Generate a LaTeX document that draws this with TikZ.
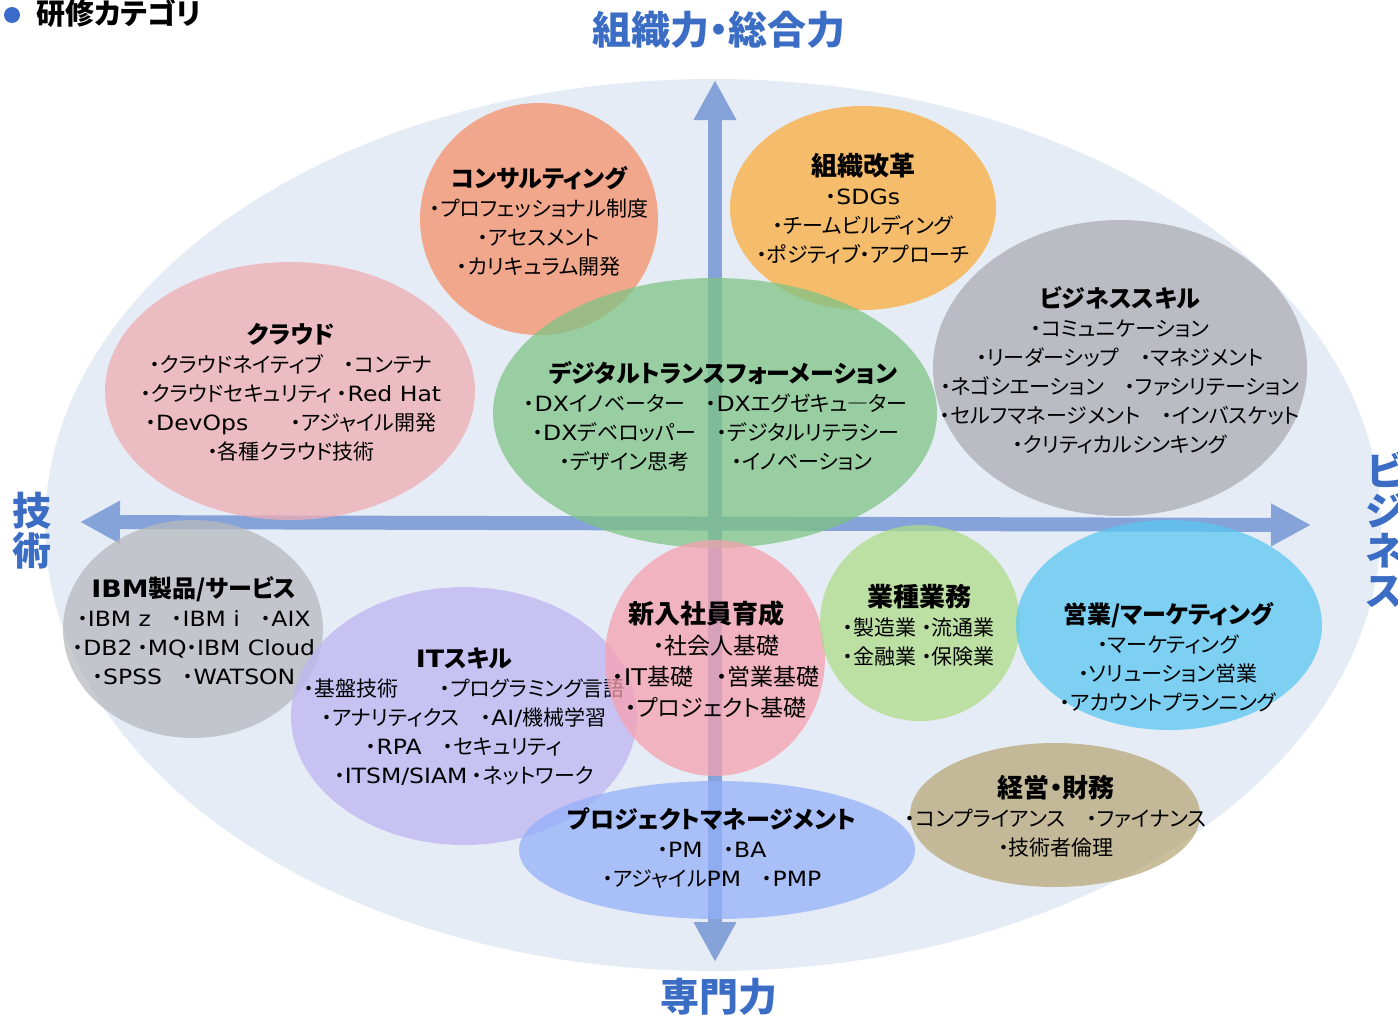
\documentclass[tikz,border=0pt]{standalone}
\usepackage{fontspec}
\setmainfont{Noto Sans CJK JP}[RawFeature={+palt}]
\newfontfamily\latf{DejaVu Sans}[FakeStretch=1.12]
\usetikzlibrary{shapes.geometric,arrows.meta}
\definecolor{bgc}{RGB}{230,236,246}
\definecolor{axc}{RGB}{133,163,216}
\definecolor{labc}{RGB}{59,109,197}
\definecolor{bulc}{RGB}{58,107,200}
\definecolor{cCons}{RGB}{246,145,105}
\definecolor{cOrg}{RGB}{249,172,61}
\definecolor{cBiz}{RGB}{173,173,178}
\definecolor{cCloud}{RGB}{239,173,179}
\definecolor{cDX}{RGB}{127,196,133}
\definecolor{cIBM}{RGB}{183,185,189}
\definecolor{cIT}{RGB}{191,181,243}
\definecolor{cNew}{RGB}{246,161,175}
\definecolor{cInd}{RGB}{175,219,137}
\definecolor{cSales}{RGB}{90,199,241}
\definecolor{cPM}{RGB}{149,176,249}
\definecolor{cMgmt}{RGB}{184,169,122}
\newcommand\bubtitle[1]{{\fontsize{24}{29}\selectfont\bfseries #1}}
\newcommand\bubtitleK[1]{{\fontsize{26}{29}\selectfont\bfseries #1}}
\newcommand\LAT[1]{{\latf #1}}
\begin{document}
\begin{tikzpicture}[x=1pt,y=-1pt,
  bubble/.style={ellipse, draw=none, inner sep=0pt, fill opacity=0.75},
  txt/.style={align=center, inner sep=0pt, font=\fontsize{21}{29}\selectfont},
  axlab/.style={align=center, inner sep=0pt, text=labc, font=\fontsize{39}{40}\selectfont\bfseries},
  axis/.style={draw=axc, line width=14pt, {Triangle[length=40pt,width=40pt]}-{Triangle[length=40pt,width=40pt]}}]
\useasboundingbox (0,0) rectangle (1398,1017);
% header
\node[circle, fill=bulc, minimum size=16pt, inner sep=0pt] (bul) at (12,15) {};
\node[inner sep=0pt, anchor=west, font=\fontsize{29}{32}\selectfont\bfseries] (hdr) at (36,13) {研修カテゴリ};
% background
\node[ellipse, fill=bgc, minimum width=1336pt, minimum height=892pt, inner sep=0pt] (bg) at (713,525) {};
% axes
\coordinate (axL) at (80,522);
\coordinate (axR) at (1311,525);
\coordinate (axT) at (715,80);
\coordinate (axB) at (715,962);
\draw[axis] (axL) -- (axR);
\draw[axis] (axT) -- (axB);
% axis labels
\node[axlab] (labT) at (719,30) {組織力・総合力};
\node[axlab] (labB) at (719,997) {専門力};
\node[axlab] (labL) at (32,531) {技\\術};
\node[axlab] (labR) at (1385,530) {ビ\\ジ\\ネ\\ス};
% bubbles
\node[bubble, fill=cCons, minimum width=238pt, minimum height=232pt] (cons) at (539,219) {};
\node[txt] (consT) at (539,221) {\bubtitle{コンサルティング}\\・プロフェッショナル制度\\・アセスメント\\・カリキュラム開発};
\node[bubble, fill=cOrg, minimum width=266pt, minimum height=204pt] (org) at (863,208) {};
\node[txt] (orgT) at (863,209) {\bubtitleK{組織改革}\\・\LAT{SDGs}\\・チームビルディング\\・ポジティブ・アプローチ};
\node[bubble, fill=cBiz, minimum width=374pt, minimum height=296pt] (biz) at (1120,368) {};
\node[txt] (bizT) at (1120,370) {\bubtitle{ビジネススキル}\\・コミュニケーション\\・リーダーシップ\quad ・マネジメント\\・ネゴシエーション\quad ・ファシリテーション\\・セルフマネージメント\quad ・インバスケット\\・クリティカルシンキング};
\node[bubble, fill=cCloud, minimum width=370pt, minimum height=258pt] (cloud) at (290,391) {};
\node[txt] (cloudT) at (291,392) {\bubtitle{クラウド}\\・クラウドネイティブ\quad ・コンテナ\\・クラウドセキュリティ\ ・\LAT{Red Hat}\\・\LAT{DevOps}\qquad ・アジャイル開発\\・各種クラウド技術};
\node[bubble, fill=cDX, minimum width=444pt, minimum height=270pt] (dx) at (715,413) {};
\node[txt] (dxT) at (716,416) {\hspace{14pt}\bubtitle{デジタルトランスフォーメーション}\\・\LAT{DX}イノベーター\quad ・\LAT{DX}エグゼキュ―ター\\・\LAT{DX}デベロッパー\quad ・デジタルリテラシー\\・デザイン思考\qquad ・イノベーション};
\node[bubble, fill=cIBM, minimum width=260pt, minimum height=218pt] (ibm) at (193,629) {};
\node[txt] (ibmT) at (194,631) {\bubtitle{\LAT{IBM}製品/サービス}\\・\LAT{IBM z}\quad ・\LAT{IBM i}\quad ・\LAT{AIX}\\・\LAT{DB2} ・\LAT{MQ}・\LAT{IBM Cloud}\\・\LAT{SPSS}\quad ・\LAT{WATSON}};
\node[bubble, fill=cIT, minimum width=346pt, minimum height=258pt] (it) at (464,716) {};
\node[txt] (itT) at (464,717) {\bubtitle{\LAT{IT}スキル}\\・基盤技術\qquad ・プログラミング言語\\・アナリティクス\quad ・\LAT{AI/}機械学習\\・\LAT{RPA}\quad ・セキュリティ\hspace*{46pt}\\・\LAT{ITSM/SIAM} ・ネットワーク};
\node[bubble, fill=cNew, minimum width=220pt, minimum height=236pt] (new) at (715,658) {};
\node[txt, font=\fontsize{23}{31}\selectfont] (newT) at (716,660) {\bubtitleK{新入社員育成}\hspace*{20pt}\\・社会人基礎\\・\LAT{IT}基礎\quad ・営業基礎\\・プロジェクト基礎};
\node[bubble, fill=cInd, minimum width=200pt, minimum height=196pt] (ind) at (920,623) {};
\node[txt] (indT) at (919,625) {\bubtitleK{業種業務}\\・製造業 ・流通業\\・金融業 ・保険業};
\node[bubble, fill=cSales, minimum width=306pt, minimum height=210pt] (sales) at (1169,625) {};
\node[txt] (salesT) at (1168,657) {\bubtitle{営業/マーケティング}\\・マーケティング\\・ソリューション営業\\・アカウントプランニング};
\node[bubble, fill=cPM, minimum width=396pt, minimum height=138pt] (pm) at (717,850) {};
\node[txt] (pmT) at (712,848) {\bubtitle{プロジェクトマネージメント}\\・\LAT{PM}\quad ・\LAT{BA}\\・アジャイル\LAT{PM}\quad ・\LAT{PMP}};
\node[bubble, fill=cMgmt, minimum width=290pt, minimum height=144pt] (mgmt) at (1055,815) {};
\node[txt] (mgmtT) at (1056,816) {\bubtitleK{経営・財務}\\・コンプライアンス\quad ・ファイナンス\\・技術者倫理};
\end{tikzpicture}
\end{document}
